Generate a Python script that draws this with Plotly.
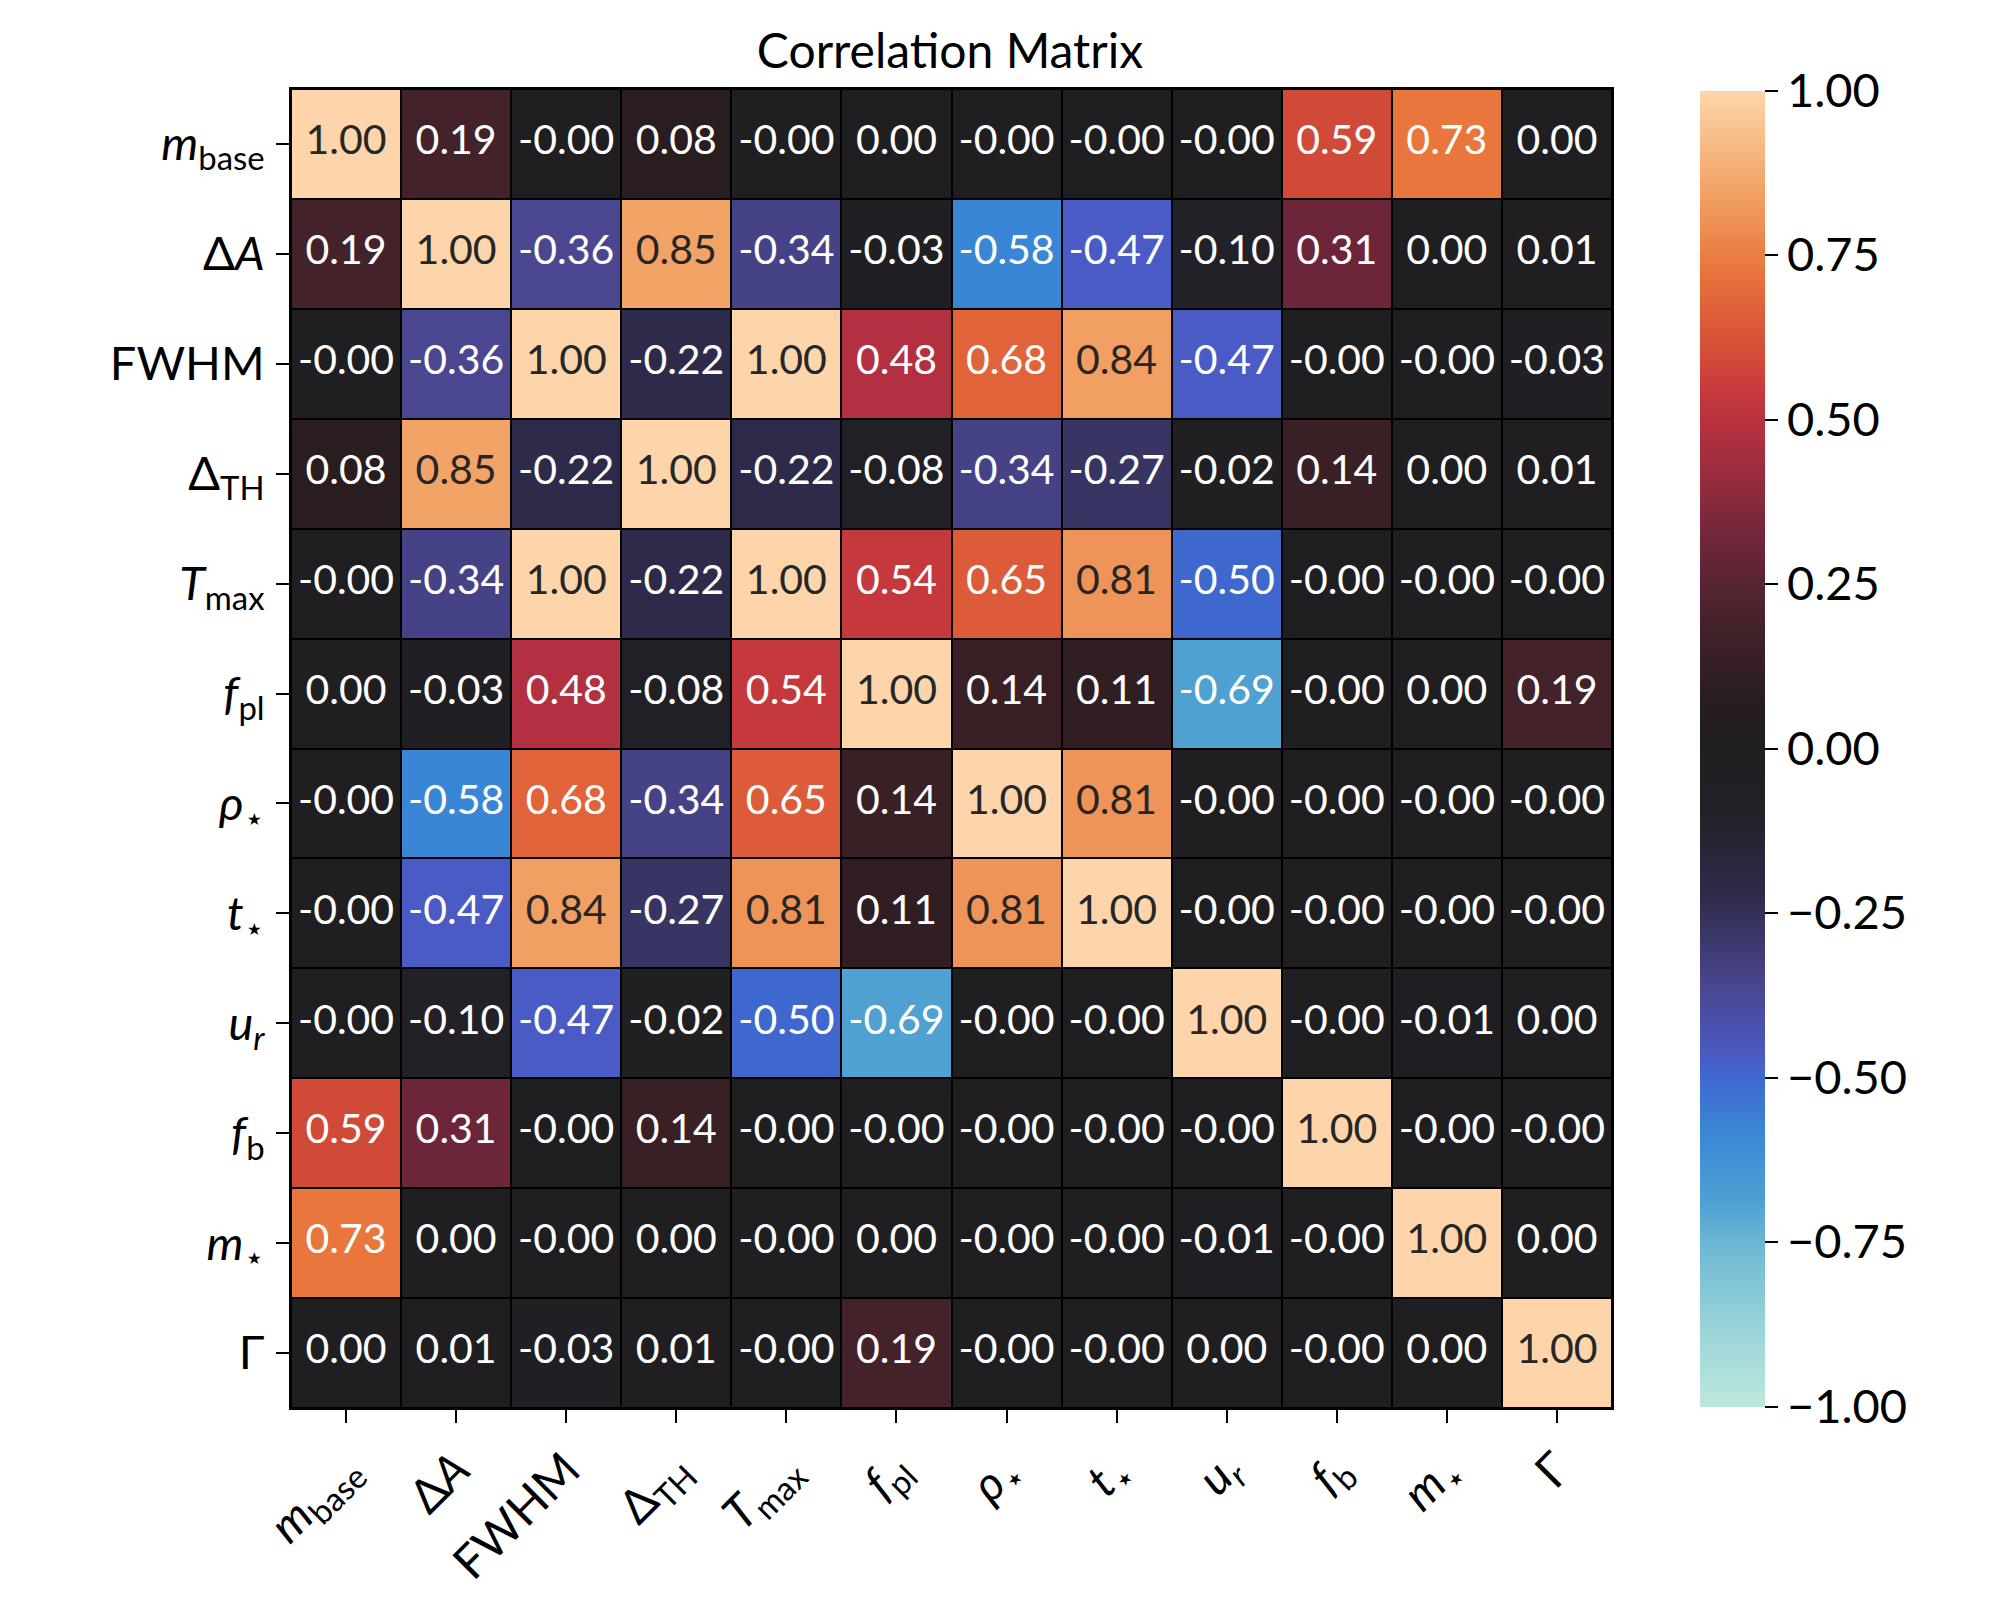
import plotly.graph_objects as go

labels = [
    "<i>m</i><sub>base</sub>", "Δ<i>A</i>", "FWHM", "Δ<sub>TH</sub>",
    "<i>T</i><sub>max</sub>", "<i>f</i><sub>pl</sub>", "<i>ρ</i><sub>⋆</sub>",
    "<i>t</i><sub>⋆</sub>", "<i>u</i><sub><i>r</i></sub>", "<i>f</i><sub>b</sub>",
    "<i>m</i><sub>⋆</sub>", "Γ",
]

row_mbase = [1.00, 0.19, -0.0, 0.08, -0.0, 0.00, -0.0, -0.0, -0.0, 0.59, 0.73, 0.00]
row_dA    = [0.19, 1.00, -0.36, 0.85, -0.34, -0.03, -0.58, -0.47, -0.10, 0.31, 0.00, 0.01]
row_fwhm  = [-0.0, -0.36, 1.00, -0.22, 1.00, 0.48, 0.68, 0.84, -0.47, -0.0, -0.0, -0.03]
row_dTH   = [0.08, 0.85, -0.22, 1.00, -0.22, -0.08, -0.34, -0.27, -0.02, 0.14, 0.00, 0.01]
row_Tmax  = [-0.0, -0.34, 1.00, -0.22, 1.00, 0.54, 0.65, 0.81, -0.50, -0.0, -0.0, -0.0]
row_fpl   = [0.00, -0.03, 0.48, -0.08, 0.54, 1.00, 0.14, 0.11, -0.69, -0.0, 0.00, 0.19]
row_rho   = [-0.0, -0.58, 0.68, -0.34, 0.65, 0.14, 1.00, 0.81, -0.0, -0.0, -0.0, -0.0]
row_t     = [-0.0, -0.47, 0.84, -0.27, 0.81, 0.11, 0.81, 1.00, -0.0, -0.0, -0.0, -0.0]
row_ur    = [-0.0, -0.10, -0.47, -0.02, -0.50, -0.69, -0.0, -0.0, 1.00, -0.0, -0.01, 0.00]
row_fb    = [0.59, 0.31, -0.0, 0.14, -0.0, -0.0, -0.0, -0.0, -0.0, 1.00, -0.0, -0.0]
row_mstar = [0.73, 0.00, -0.0, 0.00, -0.0, 0.00, -0.0, -0.0, -0.01, -0.0, 1.00, 0.00]
row_gamma = [0.00, 0.01, -0.03, 0.01, -0.0, 0.19, -0.0, -0.0, 0.00, -0.0, 0.00, 1.00]

matrix = [row_mbase, row_dA, row_fwhm, row_dTH, row_Tmax, row_fpl,
          row_rho, row_t, row_ur, row_fb, row_mstar, row_gamma]

colorbar_ticks = [-1.0, -0.75, -0.5, -0.25, 0.0, 0.25, 0.5, 0.75, 1.0]

icefire = [
    [0.000, "#bde8dc"], [0.060, "#9ad4d8"], [0.125, "#6cb7d4"],
    [0.155, "#4fa1d2"], [0.210, "#3a86d6"], [0.250, "#3f68cf"],
    [0.265, "#4a5bc6"], [0.320, "#4a4690"], [0.390, "#2e2b4a"],
    [0.450, "#222128"], [0.500, "#1f1e21"], [0.540, "#291d20"],
    [0.595, "#44222a"], [0.655, "#6d2639"], [0.740, "#b2303f"],
    [0.770, "#c5383c"], [0.795, "#d14a38"], [0.840, "#e1633a"],
    [0.865, "#e9763c"], [0.925, "#f2a366"], [1.000, "#fed5aa"],
]

FONT = "Lato"
n = len(labels)

fig = go.Figure()
fig.add_trace(go.Heatmap(
    z=matrix, x=labels, y=labels, zmin=-1, zmax=1,
    colorscale=icefire, xgap=2, ygap=2, hoverinfo="skip",
    colorbar=dict(
        x=1.0666, xanchor="left", xref="paper", y=0.5, yanchor="middle",
        len=0.998, lenmode="fraction", thickness=65, thicknessmode="pixels",
        xpad=0, ypad=0,
        outlinewidth=0, tickmode="array", tickvals=colorbar_ticks,
        ticktext=[f"{v:.2f}".replace("-", "−") for v in colorbar_ticks],
        ticks="outside", ticklen=13, tickwidth=1.5, tickcolor="black",
        tickfont=dict(family=FONT, size=47, color="black"),
    ),
))

xs, ys, texts, colors = [], [], [], []
for i, row in enumerate(matrix):
    for j, v in enumerate(row):
        xs.append(labels[j])
        ys.append(labels[i])
        texts.append(f"{v:.2f}")
        colors.append("#262626" if v >= 0.78 else "#ffffff")

fig.add_trace(go.Scatter(
    x=xs, y=ys, text=texts, mode="text", hoverinfo="skip",
    textfont=dict(family=FONT, size=41, color=colors), showlegend=False,
))

fig.update_layout(
    width=2000, height=1600,
    margin=dict(l=283, r=396, t=81, b=200),
    paper_bgcolor="white", plot_bgcolor="black",
    title=dict(text="Correlation Matrix", x=0.471, xanchor="center",
               y=0.973, yanchor="middle",
               font=dict(family=FONT, size=48, color="black")),
    showlegend=False,
)
fig.update_xaxes(
    range=[-0.5, n - 0.5], autorange=False,
    tickangle=-45, ticks="outside", ticklen=13, tickwidth=1.5, tickcolor="black",
    tickfont=dict(family=FONT, size=47, color="black"), ticklabelstandoff=0,
    showline=True, linecolor="black", linewidth=2, mirror=True, showgrid=False,
    zeroline=False,
)
fig.update_yaxes(
    range=[n - 0.5, -0.5], autorange=False, ticks="outside", ticklen=13,
    tickwidth=1.5, tickcolor="black",
    tickfont=dict(family=FONT, size=47, color="black"),
    ticklabelstandoff=2,
    showline=True, linecolor="black", linewidth=2, mirror=True, showgrid=False,
    zeroline=False,
)

fig.write_html("out.html")
